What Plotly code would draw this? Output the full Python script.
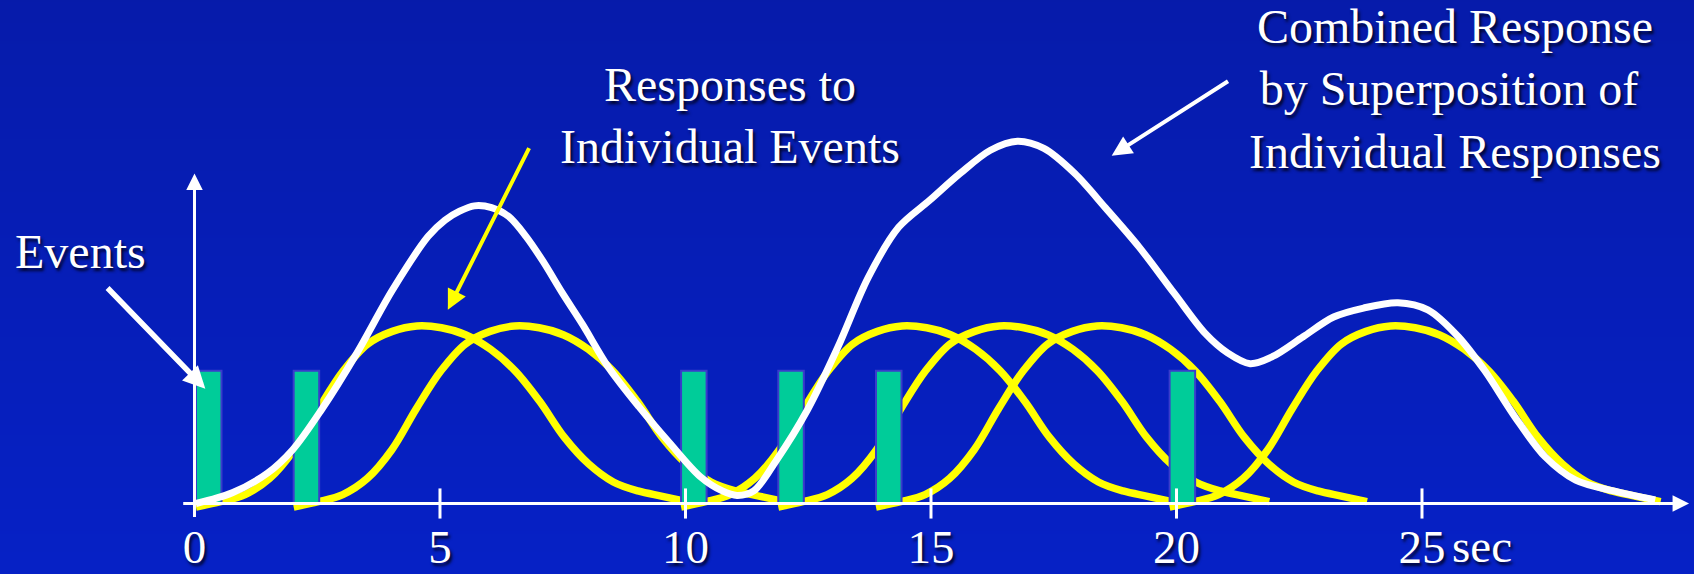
import plotly.graph_objects as go

# ---------------- data ----------------
EVENT_TIMES = [0.03, 2.02, 9.91, 11.89, 13.88, 19.86]   # sec
EVENT_HEIGHT = 0.74
EVENT_WIDTH = 0.52

# single-event response shape: offset from event (sec) -> amplitude
RESP_OFFSET = [0, 0.5, 1.0, 1.5, 2.0, 2.5, 3.0, 3.5, 4.0, 4.5, 5.0, 5.5,
               6.0, 6.5, 7.0, 7.5, 8.0, 8.5, 9.0, 9.5, 10.0]
RESP_VALUE = [-0.02, 0.01, 0.05, 0.14, 0.30, 0.53, 0.74, 0.89, 0.96, 0.99,
              0.98, 0.94, 0.86, 0.74, 0.57, 0.37, 0.22, 0.12, 0.07, 0.04, 0.01]

# combined response (white curve)
COMB_T = [0.03, 0.77, 1.49, 2.0, 2.58, 3.31, 4.03, 4.76, 5.1, 5.4, 5.7, 6.05,
          6.4, 6.75, 7.1, 7.5, 7.9, 8.43, 9.05, 9.67, 10.30, 10.75, 11.05,
          11.39, 11.85, 12.48, 13.10, 13.72, 14.34, 14.97, 15.59, 16.21,
          16.76, 17.30, 17.93, 18.55, 19.24, 19.96, 20.58, 21.04, 21.5,
          21.96, 22.58, 23.20, 23.81, 24.51, 25.12, 25.74, 26.28, 26.90,
          27.51, 28.13, 28.9, 29.75]
COMB_V = [0.0, 0.06, 0.17, 0.30, 0.52, 0.84, 1.19, 1.49, 1.58, 1.63, 1.66,
          1.65, 1.60, 1.49, 1.35, 1.17, 1.00, 0.76, 0.54, 0.34, 0.15, 0.07,
          0.045, 0.07, 0.24, 0.52, 0.87, 1.26, 1.54, 1.69, 1.84, 1.97,
          2.02, 1.98, 1.84, 1.65, 1.43, 1.17, 0.95, 0.84, 0.78,
          0.82, 0.93, 1.04, 1.09, 1.12, 1.08, 0.93, 0.74, 0.48,
          0.26, 0.13, 0.07, 0.02]

TICK_VALS = [0, 5, 10, 15, 20, 25]
TICK_TEXT = ["0", "5", "10", "15", "20", "25"]

# ---------------- styling ----------------
W, H = 1694, 574
X_RANGE = [-3.961, 30.54]
Y_RANGE = [-0.3932, 2.808]
BG_TOP = "#061BAA"
BG_BOT = "#0621C6"
FONT = "Liberation Serif, Times New Roman, serif"
SHADOW = "2px 3px 3px rgba(0,0,20,0.85)"

fig = go.Figure()

# background gradient
fig.add_trace(go.Heatmap(
    x=[X_RANGE[0] - 1, X_RANGE[1] + 1],
    y=[Y_RANGE[0] - 0.05, Y_RANGE[1] + 0.05],
    z=[[0, 0], [1, 1]],
    colorscale=[[0, BG_BOT], [1, BG_TOP]],
    zsmooth="best", showscale=False, hoverinfo="skip"))

# individual responses (yellow)
for e in EVENT_TIMES:
    fig.add_trace(go.Scatter(
        x=[e + o for o in RESP_OFFSET], y=RESP_VALUE, mode="lines",
        line=dict(color="#FFFF00", width=7.5, shape="spline", smoothing=1.0),
        hoverinfo="skip", showlegend=False))

# events (bars drawn as filled rectangles so they sit above the yellow curves)
bx, by = [], []
for e in EVENT_TIMES:
    bx += [e, e + EVENT_WIDTH, e + EVENT_WIDTH, e, e, None]
    by += [0, 0, EVENT_HEIGHT, EVENT_HEIGHT, 0, None]
fig.add_trace(go.Scatter(
    x=bx, y=by, mode="lines", fill="toself", fillcolor="#00CC99",
    line=dict(color="#3A3CCB", width=2), hoverinfo="skip", showlegend=False))

# combined response (white)
fig.add_trace(go.Scatter(
    x=COMB_T, y=COMB_V, mode="lines",
    line=dict(color="#FFFFFF", width=7, shape="spline", smoothing=0.9),
    hoverinfo="skip", showlegend=False))

# tick marks crossing the axis
shapes = []
for tv in TICK_VALS[1:]:
    shapes.append(dict(type="line", xref="x", yref="y", x0=tv, x1=tv,
                       y0=-0.084, y1=0.084,
                       line=dict(color="white", width=3)))

txt = dict(family=FONT, size=48, color="white", shadow=SHADOW)
tick_txt = dict(family=FONT, size=47, color="white", shadow=SHADOW)

annotations = [
    # axes with arrow heads
    dict(x=30.44, y=0, ax=-0.26, ay=0, xref="x", yref="y", axref="x", ayref="y",
         text="", showarrow=True, arrowhead=2, arrowsize=1.1, arrowwidth=3,
         arrowcolor="white"),
    dict(x=0, y=1.84, ax=0, ay=-0.084, xref="x", yref="y", axref="x", ayref="y",
         text="", showarrow=True, arrowhead=2, arrowsize=1.1, arrowwidth=3,
         arrowcolor="white"),
    # pointer arrows
    dict(x=0.22, y=0.64, ax=-1.80, ay=1.21, xref="x", yref="y", axref="x", ayref="y",
         text="", showarrow=True, arrowhead=2, arrowsize=0.8, arrowwidth=5.5,
         arrowcolor="white"),
    dict(x=5.16, y=1.08, ax=6.83, ay=1.99, xref="x", yref="y", axref="x", ayref="y",
         text="", showarrow=True, arrowhead=2, arrowsize=1.0, arrowwidth=4,
         arrowcolor="#FFFF00"),
    dict(x=18.68, y=1.94, ax=21.08, ay=2.36, xref="x", yref="y", axref="x", ayref="y",
         text="", showarrow=True, arrowhead=2, arrowsize=1.0, arrowwidth=4,
         arrowcolor="white"),
    # labels
    dict(x=13 / W, y=1 - 252 / H, xref="paper", yref="paper", text="Events",
         showarrow=False, xanchor="left", yanchor="middle", font=txt),
    dict(x=730 / W, y=1 - 115 / H, xref="paper", yref="paper",
         text="Responses to<br>Individual Events", align="center",
         showarrow=False, xanchor="center", yanchor="middle", font=txt),
    dict(x=1455 / W, y=1 - 89 / H, xref="paper", yref="paper",
         text="Combined Response<br>by Superposition of <br>Individual Responses",
         align="center", showarrow=False, xanchor="center", yanchor="middle",
         font=txt),
    dict(x=1450 / W, y=1 - 546 / H, xref="paper", yref="paper", text="sec",
         showarrow=False, xanchor="left", yanchor="middle", font=tick_txt),
]

fig.update_layout(
    width=W, height=H, margin=dict(l=0, r=0, t=0, b=0, pad=0, autoexpand=False),
    paper_bgcolor="#0520B8", plot_bgcolor="#0520B8",
    showlegend=False, shapes=shapes, annotations=annotations,
    xaxis=dict(range=X_RANGE, showgrid=False, zeroline=False, showline=False,
               tickvals=TICK_VALS, ticktext=TICK_TEXT, ticks="",
               tickfont=tick_txt, anchor="free", position=(H - 503.5) / H,
               ticklabelstandoff=11, fixedrange=True, automargin=False),
    yaxis=dict(range=Y_RANGE, showgrid=False, zeroline=False, showline=False,
               showticklabels=False, ticks="", fixedrange=True,
               automargin=False),
)

fig.write_html(
    "out.html",
    config={"displayModeBar": False},
    post_script="document.body.style.margin='0';document.body.style.padding='0';"
                "document.body.style.overflow='hidden';"
                "document.body.style.background='#0520B8';",
)
